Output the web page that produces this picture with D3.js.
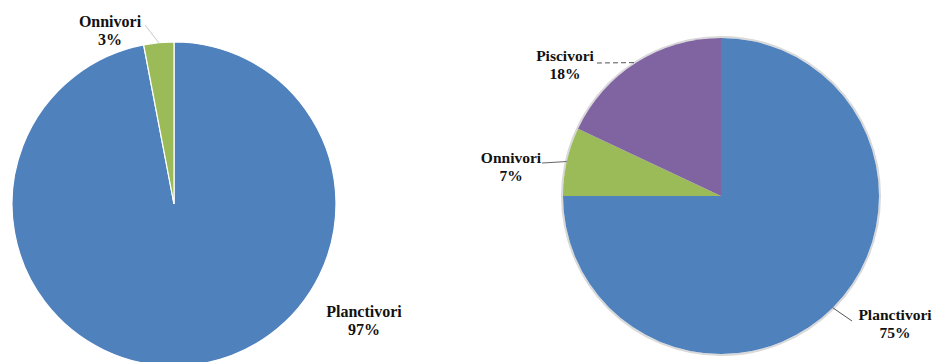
<!DOCTYPE html>
<html>
<head>
<meta charset="utf-8">
<script src="https://cdn.jsdelivr.net/npm/d3@7"></script>
<style>
  html, body { margin: 0; padding: 0; background: #fff; }
  svg { display: block; }
  .lbl { font-family: "Liberation Serif", "Times New Roman", serif; font-weight: bold; fill: #111; }
</style>
</head>
<body>
<svg id="chart" width="935" height="362"></svg>
<script>
// Feeding guilds, first survey
const leftCategories = ["Planctivori", "Onnivori"];
const leftValues = [97, 3];

// Feeding guilds, second survey
const rightCategories = ["Planctivori", "Onnivori", "Piscivori"];
const rightValues = [75, 7, 18];

const colors = {
  Planctivori: "#4F81BD",
  Onnivori: "#9BBB59",
  Piscivori: "#8064A2"
};

const svg = d3.select("#chart");

// pie geometry and label placement for each panel
const panels = [
  {
    categories: leftCategories, values: leftValues,
    cx: 174, cy: 204, r: 162, sep: true, fontSize: 16,
    labels: {
      Planctivori: { x: 364, y: 317, leader: null },
      Onnivori: { x: 110, y: 27, leader: { x: 145, y: 25 }, lineColor: "#c8c8c8", dash: null }
    }
  },
  {
    categories: rightCategories, values: rightValues,
    cx: 721, cy: 196, r: 158, sep: false, fontSize: 15.5,
    labels: {
      Planctivori: { x: 895, y: 320, leader: { x: 852, y: 321 }, lineColor: "#555", dash: null },
      Onnivori: { x: 511, y: 163, leader: { x: 542, y: 163 }, lineColor: "#666", dash: null },
      Piscivori: { x: 565, y: 61, leader: { x: 597, y: 63 }, lineColor: "#555", dash: "5,3" }
    }
  }
];

panels.forEach(p => {
  const data = p.categories.map((c, i) => ({ cat: c, value: p.values[i] }));
  const pie = d3.pie().sort(null).value(d => d.value).startAngle(0).endAngle(2 * Math.PI);
  const arcs = pie(data);
  const arc = d3.arc().innerRadius(0).outerRadius(p.r);

  const g = svg.append("g").attr("transform", `translate(${p.cx},${p.cy})`);

  if (!p.sep) {
    // soft grey rim round the second pie
    g.append("circle")
      .attr("r", p.r + 1)
      .attr("fill", "none")
      .attr("stroke", "#d9d9d9")
      .attr("stroke-width", 2);
  }

  g.selectAll("path.slice")
    .data(arcs)
    .join("path")
    .attr("class", "slice")
    .attr("d", arc)
    .attr("fill", d => colors[d.data.cat])
    .attr("stroke", p.sep ? "#ffffff" : "none")
    .attr("stroke-width", p.sep ? 1.2 : 0);

  arcs.forEach(a => {
    const lab = p.labels[a.data.cat];
    if (!lab) return;
    const mid = (a.startAngle + a.endAngle) / 2;
    if (lab.leader) {
      const ex = p.cx + p.r * Math.sin(mid);
      const ey = p.cy - p.r * Math.cos(mid);
      svg.append("line")
        .attr("x1", lab.leader.x).attr("y1", lab.leader.y)
        .attr("x2", ex).attr("y2", ey)
        .attr("stroke", lab.lineColor)
        .attr("stroke-width", 1)
        .attr("stroke-dasharray", lab.dash);
    }
    const t = svg.append("text")
      .attr("class", "lbl")
      .attr("text-anchor", "middle")
      .attr("font-size", p.fontSize)
      .attr("x", lab.x).attr("y", lab.y);
    t.append("tspan").attr("x", lab.x).text(a.data.cat);
    t.append("tspan").attr("x", lab.x).attr("dy", 18).text(a.data.value + "%");
  });
});
</script>
</body>
</html>
